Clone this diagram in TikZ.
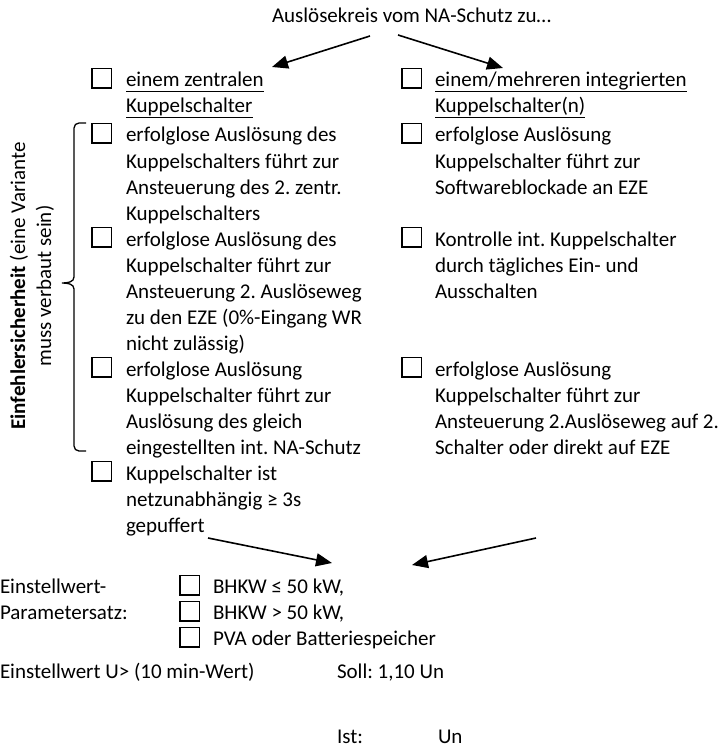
\documentclass[tikz,border=0pt]{standalone}
\usepackage{fontspec}
\setmainfont{Carlito}
\usetikzlibrary{arrows.meta}
\frenchspacing
\newcommand{\mylines}[1]{\begin{tabular}[t]{@{}l@{}}#1\end{tabular}}
\newcommand{\myul}[1]{\setbox0=\hbox{#1}\rlap{\rule[-5.5pt]{\wd0}{1.2pt}}\box0}
\tikzset{
  every node/.style={font=\fontsize{21}{26}\selectfont\frenchspacing, inner sep=0pt, outer sep=0pt},
  txt/.style={anchor=base west},
  cbox/.style={draw, line width=1.3pt, minimum size=19.5pt, anchor=south west},
  arr/.style={line width=1.6pt, -{Triangle[length=16pt,width=13pt]}},
  brace/.style={line width=1.3pt}
}
\begin{document}
\begin{tikzpicture}[x=1pt,y=-1pt]
\useasboundingbox (0,0) rectangle (726,749);
% title
\node[txt] (title) at (272,23) {Auslösekreis vom NA-Schutz zu…};
\coordinate (tls) at (370,36);
\coordinate (tle) at (272,67);
\coordinate (trs) at (398,35);
\coordinate (tre) at (503,68);
\draw[arr] (tls) -- (tle);
\draw[arr] (trs) -- (tre);
% header row
\node[cbox] (bL0) at (92,88) {};
\node[txt] (L0) at (126,87) {\mylines{\myul{einem zentralen}\\\myul{Kuppelschalter}}};
\node[cbox] (bR0) at (402,88) {};
\node[txt] (R0) at (435,87) {\mylines{\myul{einem/mehreren integrierten}\\\myul{Kuppelschalter(n)}}};
% left column
\node[cbox] (bL1) at (92,143) {};
\node[txt] (L1) at (126,142) {\mylines{erfolglose Auslösung des\\Kuppelschalters führt zur\\Ansteuerung des 2. zentr.\\Kuppelschalters}};
\node[cbox] (bL2) at (92,247) {};
\node[txt] (L2) at (126,246) {\mylines{erfolglose Auslösung des\\Kuppelschalter führt zur\\Ansteuerung 2. Auslöseweg\\zu den EZE (0\%-Eingang WR\\nicht zulässig)}};
\node[cbox] (bL3) at (92,377) {};
\node[txt] (L3) at (126,376) {\mylines{erfolglose Auslösung\\Kuppelschalter führt zur\\Auslösung des gleich\\eingestellten int. NA-Schutz}};
\node[cbox] (bL4) at (92,481) {};
\node[txt] (L4) at (126,480) {\mylines{Kuppelschalter ist\\netzunabhängig ≥ 3s\\gepuffert}};
% right column
\node[cbox] (bR1) at (402,143) {};
\node[txt] (R1) at (435,142) {\mylines{erfolglose Auslösung\\Kuppelschalter führt zur\\Softwareblockade an EZE}};
\node[cbox] (bR2) at (402,247) {};
\node[txt] (R2) at (435,246) {\mylines{Kontrolle int. Kuppelschalter\\durch tägliches Ein- und\\Ausschalten}};
\node[cbox] (bR3) at (402,377) {};
\node[txt] (R3) at (435,376) {\mylines{erfolglose Auslösung\\Kuppelschalter führt zur\\Ansteuerung 2.Auslöseweg auf 2.\\Schalter oder direkt auf EZE}};
% brace
\draw[brace] (86,123) -- (79,123) to[out=180,in=90] (74,128) -- (74,277)
  to[out=-90,in=0] (62,283) to[out=0,in=90] (74,289) -- (74,446)
  to[out=-90,in=180] (79,451) -- (86,451);
\node[rotate=90, align=center] (side) at (32,286) {\textbf{Einfehlersicherheit} (eine Variante\\muss verbaut sein)};
% bottom arrows
\coordinate (bls) at (208,538);
\coordinate (ble) at (332,563);
\coordinate (brs) at (536,538);
\coordinate (bre) at (412,565);
\draw[arr] (bls) -- (ble);
\draw[arr] (brs) -- (bre);
% parameter set
\node[txt] (ew) at (0,593) {Einstellwert-};
\node[txt] (ps) at (0,619) {Parametersatz:};
\node[cbox] (bP1) at (180,595) {};
\node[txt] (P1) at (213,593) {BHKW ≤ 50 kW,};
\node[cbox] (bP2) at (180,621) {};
\node[txt] (P2) at (213,619) {BHKW > 50 kW,};
\node[cbox] (bP3) at (180,647) {};
\node[txt] (P3) at (213,645) {PVA oder Batteriespeicher};
% values
\node[txt] (eu) at (0,678) {Einstellwert U> (10 min-Wert)};
\node[txt] (soll) at (337,678) {Soll: 1,10 Un};
\node[txt] (ist) at (337,743) {Ist:};
\node[txt] (un) at (438,743) {Un};
\end{tikzpicture}
\end{document}
